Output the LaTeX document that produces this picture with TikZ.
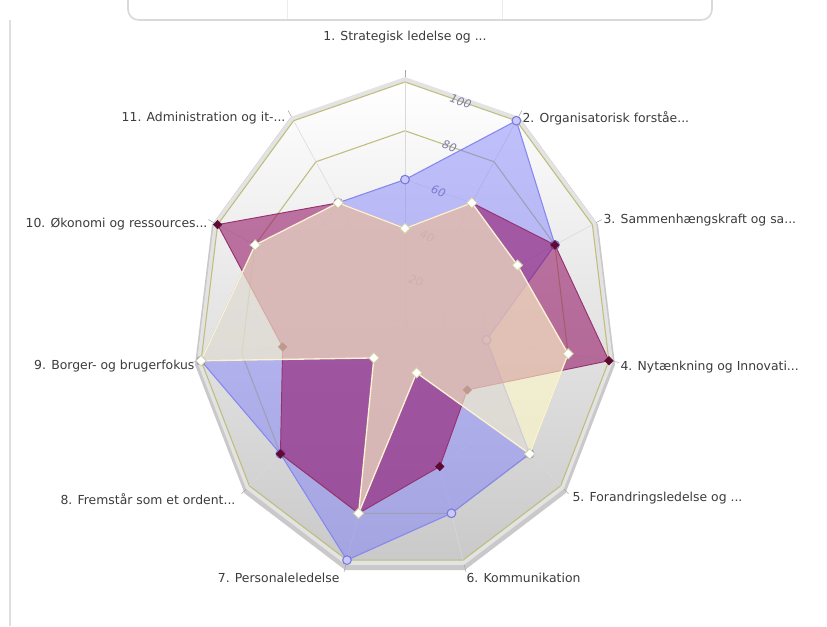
\documentclass[tikz,border=0pt]{standalone}
\usepackage{fontspec}
\setmainfont{DejaVu Sans}
\usepackage{tikz}
\usetikzlibrary{calc, shapes.geometric}
\usepackage{xcolor}
\definecolor{serblue}{RGB}{120,120,255}
\definecolor{serbluedark}{RGB}{135,135,240}
\definecolor{serred}{RGB}{145,10,95}
\definecolor{serredline}{RGB}{150,50,110}
\definecolor{serreddark}{RGB}{95,10,50}
\definecolor{seryellow}{RGB}{255,250,200}
\definecolor{seryellowline}{RGB}{250,242,210}
\definecolor{gridolive}{RGB}{190,190,125}
\definecolor{labelgray}{RGB}{60,60,60}
\definecolor{valblue}{RGB}{125,125,170}

\begin{document}
\begin{tikzpicture}[x=0.75pt, y=0.75pt,
  axislabel/.style={font=\fontsize{9.3}{11}\selectfont, text=labelgray, inner sep=1pt},
  vallabel/.style={font=\fontsize{8.5}{10}\selectfont\itshape, text=valblue, inner sep=0pt},
  bluemark/.style={circle, draw=serbluedark!90!black, fill=serblue!40, line width=0.8pt, minimum size=6.5pt, inner sep=0pt},
  redmark/.style={diamond, fill=serreddark, draw=serreddark, minimum size=6.5pt, inner sep=0pt},
  yellowmark/.style={diamond, fill=white, draw=gridolive!70, line width=0.6pt, minimum size=8pt, inner sep=0pt}]
  \useasboundingbox (0,0) rectangle (827,626);
  \fill[white] (0,0) rectangle (827,626);
  \draw[gray!25, line width=1.2pt] (10,0) -- (10,606);
  \draw[gray!30, line width=1.2pt, rounded corners=8pt] (128,660) -- (128,606) -- (712,606) -- (712,660);
  \foreach \x in {287, 502} {
    \draw[gray!15] (\x,607) -- (\x,626);
  }

  \begin{scope}[shift={(405,300)}, xscale=2.06, yscale=2.44]
    \fill[gray!42, yshift=-0.9pt] (90:103) \foreach \k in {1,...,10} {-- ({90-\k*360/11}:103)} -- cycle;
    \fill[gray!22] (90:102) \foreach \k in {1,...,10} {-- ({90-\k*360/11}:102)} -- cycle;
    \shade[top color=white, bottom color=gray!42] (90:100) \foreach \k in {1,...,10} {-- ({90-\k*360/11}:100)} -- cycle;
    \foreach \r in {20,40,60} {
      \draw[gray!25] (90:\r) \foreach \k in {1,...,10} {-- ({90-\k*360/11}:\r)} -- cycle;
    }
    \foreach \r in {80,100} {
      \draw[gridolive, line width=0.8pt] (90:\r) \foreach \k in {1,...,10} {-- ({90-\k*360/11}:\r)} -- cycle;
    }
    \foreach \k in {0,...,10} {
      \draw[gray!30] (0,0) -- ({90-\k*360/11}:100);
      \draw[gray!70] ({90-\k*360/11}:102) -- ({90-\k*360/11}:105);
    }
    \foreach \r in {20,40,...,100} {
      \node[vallabel, rotate=-19] (val\r) at ($(90:\r)!0.5!(57.27:\r)$) {\r};
    }

    \foreach \v [count=\i] in {60,100,80,40,80,80,100,80,100,80,60} {
      \coordinate (b\i) at ({90-(\i-1)*360/11}:\v);
    }
    \foreach \v [count=\i] in {40,60,80,100,40,60,80,80,60,100,60} {
      \coordinate (r\i) at ({90-(\i-1)*360/11}:\v);
    }
    \foreach \v [count=\i] in {40,60,60,80,80,20,80,20,100,80,60} {
      \coordinate (y\i) at ({90-(\i-1)*360/11}:\v);
    }

    \filldraw[fill=serblue, fill opacity=.45, draw=serbluedark, line width=0.8pt]
      (b1) \foreach \i in {2,...,11} {-- (b\i)} -- cycle;
    \foreach \i in {1,...,11} {
      \node[bluemark] (bm\i) at (b\i) {};
    }
    \filldraw[fill=serred, fill opacity=.55, draw=serredline, line width=0.7pt]
      (r1) \foreach \i in {2,...,11} {-- (r\i)} -- cycle;
    \foreach \i in {1,...,11} {
      \node[redmark] (rm\i) at (r\i) {};
    }
    \filldraw[fill=seryellow, fill opacity=.6, draw=seryellowline, line width=1pt]
      (y1) \foreach \i in {2,...,11} {-- (y\i)} -- cycle;
    \foreach \i in {1,...,11} {
      \node[yellowmark] (ym\i) at (y\i) {};
    }
  \end{scope}

  \node[axislabel] (lab1) at (405,589) {1. Strategisk ledelse og ...};
  \node[axislabel, anchor=west] (lab2) at (521,508) {2. Organisatorisk forståe...};
  \node[axislabel, anchor=west] (lab3) at (602,406) {3. Sammenhængskraft og sa...};
  \node[axislabel, anchor=west] (lab4) at (619,259) {4. Nytænkning og Innovati...};
  \node[axislabel, anchor=west] (lab5) at (571,128) {5. Forandringsledelse og ...};
  \node[axislabel, anchor=west] (lab6) at (465,48) {6. Kommunikation};
  \node[axislabel, anchor=east] (lab7) at (341,48) {7. Personaleledelse};
  \node[axislabel, anchor=east] (lab8) at (237,127) {8. Fremstår som et ordent...};
  \node[axislabel, anchor=east] (lab9) at (196,260) {9. Borger- og brugerfokus};
  \node[axislabel, anchor=east] (lab10) at (209,402) {10. Økonomi og ressources...};
  \node[axislabel, anchor=east] (lab11) at (287,508) {11. Administration og it-...};
\end{tikzpicture}
\end{document}
